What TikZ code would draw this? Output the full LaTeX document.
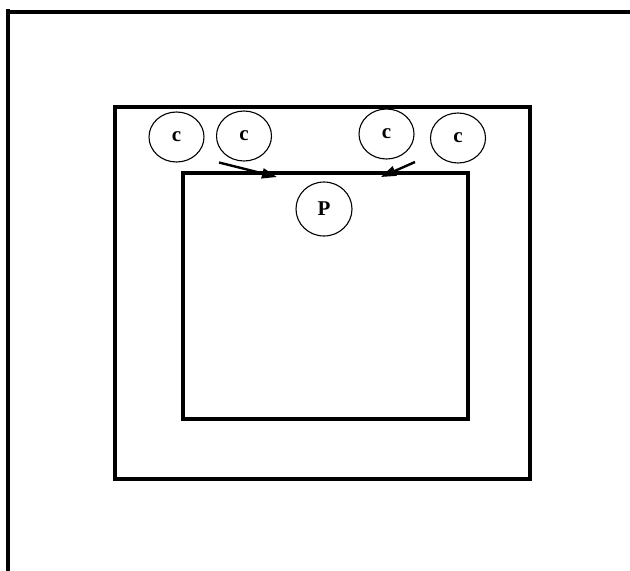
\documentclass[tikz,border=0pt]{standalone}
\usepackage{fontspec}
\setmainfont{Liberation Serif}
\usetikzlibrary{arrows.meta,shapes.geometric}
\begin{document}
\begin{tikzpicture}[x=1pt,y=-1pt,
  frame/.style={line width=4pt},
  cell/.style={draw,ellipse,line width=1.1pt,minimum width=55pt,minimum height=50pt,inner sep=0pt,font=\fontsize{21}{21}\selectfont\bfseries},
  arr/.style={line width=2.4pt,-{Triangle[length=15pt,width=10pt]}}]
\useasboundingbox (0,0) rectangle (630,571);
% outer frame (partly visible)
\draw[frame] (8.3,575) -- (8.3,9);
\draw[frame] (10,12) -- (640,12);
% middle and inner rectangles
\draw[frame] (115,107) rectangle (530,479);
\draw[frame] (183,173) rectangle (468,419);
% nodes
\node[cell] (c1) at (176.5,137) {c};
\node[cell] (c2) at (244,136) {c};
\node[cell] (c3) at (386.5,134) {c};
\node[cell] (c4) at (458,138) {c};
\node[cell,minimum width=56pt,minimum height=54pt] (p) at (324,209) {P};
% arrows
\coordinate (a1s) at (219,162.5);
\coordinate (a1e) at (277,177);
\coordinate (a2s) at (415,162);
\coordinate (a2e) at (381,177);
\draw[arr] (a1s) -- (a1e);
\draw[arr] (a2s) -- (a2e);
\end{tikzpicture}
\end{document}
